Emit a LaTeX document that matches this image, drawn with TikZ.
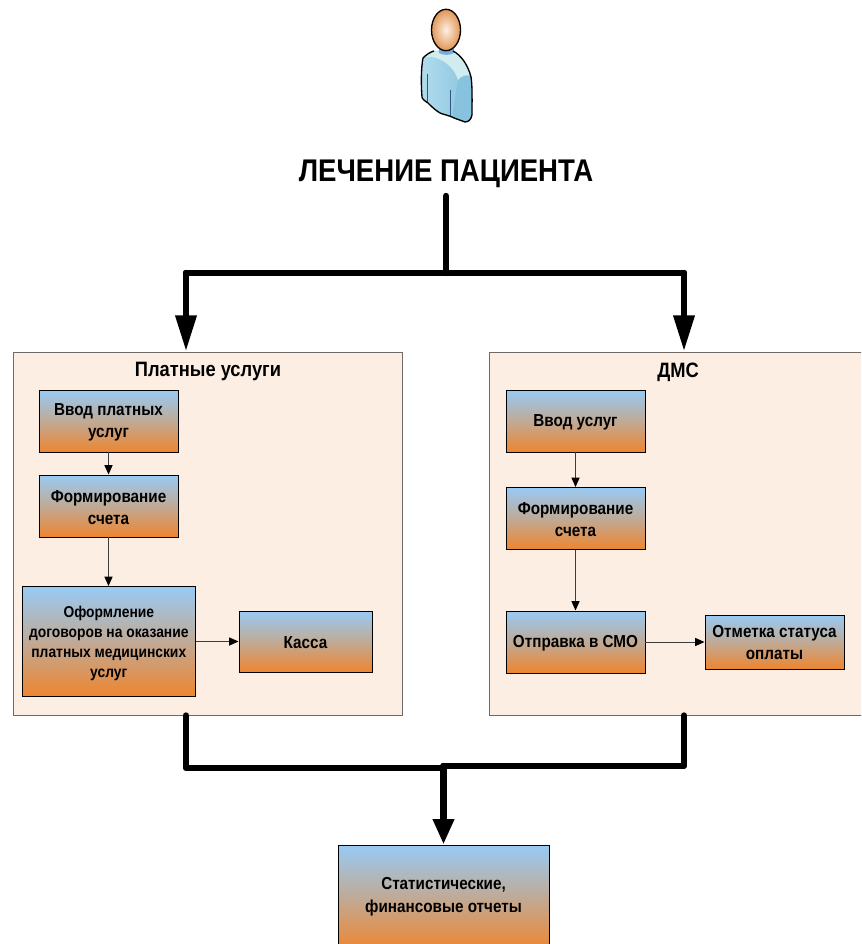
\documentclass[tikz,border=0pt]{standalone}
\usepackage{fontspec}
\setmainfont{Liberation Sans}[FakeStretch=0.88]
\usetikzlibrary{arrows.meta,calc}
\definecolor{panelfill}{RGB}{253,238,227}
\definecolor{panelline}{RGB}{110,105,100}
\definecolor{boxtop}{RGB}{152,202,245}
\definecolor{boxmid}{RGB}{192,170,150}
\definecolor{boxbot}{RGB}{238,133,48}
\definecolor{thinline}{RGB}{60,60,60}
\definecolor{bodyA}{RGB}{178,220,238}
\definecolor{bodyB}{RGB}{135,195,222}
\definecolor{yoke}{RGB}{208,236,238}
\definecolor{neck}{RGB}{120,172,220}
\definecolor{seam}{RGB}{50,85,130}
\definecolor{headA}{RGB}{252,240,228}
\definecolor{headB}{RGB}{226,150,85}
\tikzset{
  x=0.75pt,y=-0.75pt,
  panel/.style={draw=panelline,fill=panelfill,line width=0.75pt,inner sep=0pt},
  flowbox/.style={draw=black,line width=0.7pt,top color=boxtop,bottom color=boxbot,middle color=boxmid,
     align=center,font=\bfseries\fontsize{13}{16.5}\selectfont,inner sep=0pt},
  boxlabel/.style={align=center,font=\bfseries\fontsize{13}{16.5}\selectfont,inner sep=0pt},
  paneltitle/.style={font=\bfseries\fontsize{15.6}{18}\selectfont,inner sep=0pt},
  thin arrow/.style={draw=thinline,line width=0.75pt,-{Triangle[length=7pt,width=6pt,color=black]}},
  thick link/.style={draw=black,line width=4.8pt,line cap=round,line join=round},
  thick arrow/.style={thick link,-{Triangle[length=27pt,width=15pt,color=black]}},
  short thick arrow/.style={thick link,-{Triangle[length=19pt,width=15pt,color=black]}},
}
\begin{document}
\begin{tikzpicture}
\useasboundingbox (0,0) rectangle (861,944);
\clip (0,0) rectangle (861,944);
\fill[white] (0,0) rectangle (861,944);

% person
\path[left color=bodyA,right color=bodyB]
   (423,58) .. controls (426,55) and (430,52) .. (434,51)
   -- (453,51) .. controls (461,55) and (468,65) .. (471,77)
   .. controls (472.500,85) and (472,105) .. (472,115)
   .. controls (471,120) and (468,122) .. (465,122)
   .. controls (460,120) and (456,119) .. (452,117)
   .. controls (447,115) and (442,114) .. (440,113)
   .. controls (435,110) and (431,106) .. (428,103)
   .. controls (425,101) and (422,99) .. (422,97)
   .. controls (421,85) and (421,68) .. (423,58) -- cycle;
\fill[bodyB]
   (458,80) .. controls (461,76) and (466,74) .. (471,77)
   .. controls (472.500,85) and (472,105) .. (472,115)
   .. controls (471,120) and (468,122) .. (465,122)
   .. controls (460,120) and (456,119) .. (452,117)
   -- (458,80) -- cycle;
\fill[yoke]
   (424,57.500) .. controls (427,55) and (430,52.500) .. (434,51.500)
   -- (453,51.500) .. controls (461,55) and (467,65) .. (470.500,76)
   .. controls (466,74) and (461,76) .. (458,80)
   .. controls (455,68) and (440,54) .. (424,57.500) -- cycle;
\draw[seam,line width=0.6pt] (427,74) -- (427,102);
\draw[seam,line width=0.6pt] (450,90) -- (450,116);
\fill[neck] (439,48) -- (454,48) -- (454,53) .. controls (450,55.500) and (443,55.500) .. (439,53) -- cycle;
\draw[black,line width=1pt,line join=round]
   (423,58) .. controls (426,55) and (430,52) .. (434,51)
   (453,51) .. controls (461,55) and (468,65) .. (471,77)
   .. controls (472.500,85) and (472,105) .. (472,115)
   .. controls (471,120) and (468,122) .. (465,122)
   .. controls (460,120) and (456,119) .. (452,117)
   .. controls (447,115) and (442,114) .. (440,113)
   .. controls (435,110) and (431,106) .. (428,103)
   .. controls (425,101) and (422,99) .. (422,97)
   .. controls (421,85) and (421,68) .. (423,58);
\shade[draw=black,line width=1pt,inner color=headA,outer color=headB]
   (446,30) ellipse (14.500 and 20.700);

\node[font=\bfseries\fontsize{23.5}{26}\selectfont,inner sep=0pt] (title) at (446,174) {ЛЕЧЕНИЕ ПАЦИЕНТА};

% panels
\node[panel,minimum width=291.75pt,minimum height=272.25pt] (panelL) at (208,533.5) {};
\node[panel,minimum width=291.75pt,minimum height=272.25pt] (panelR) at (684,533.5) {};
\node[paneltitle] (titleL) at (208,372) {Платные услуги};
\node[paneltitle] (titleR) at (678,372) {ДМС};

% boxes left
\node[flowbox,minimum width=104.25pt,minimum height=46.5pt] (a1) at (108.5,421) {};
\node[boxlabel] (a1t) at (108.5,422.500) {Ввод платных\\услуг};
\node[flowbox,minimum width=104.25pt,minimum height=46.5pt] (a2) at (108.5,506) {};
\node[boxlabel] (a2t) at (108.5,507.500) {Формирование\\счета};
\node[flowbox,minimum width=130pt,minimum height=82.5pt] (a3) at (108.8,641.5) {};
\node[boxlabel,font=\bfseries\fontsize{11.8}{15}\selectfont] (a3t) at (108.8,643) {Оформление\\договоров на оказание\\платных медицинских\\услуг};
\node[flowbox,minimum width=99.75pt,minimum height=45.75pt] (a4) at (305.5,641.5) {};
\node[boxlabel] (a4t) at (305.5,642.500) {Касса};
% boxes right
\node[flowbox,minimum width=104.25pt,minimum height=46.5pt] (b1) at (575.5,421) {};
\node[boxlabel] (b1t) at (575.5,422) {Ввод услуг};
\node[flowbox,minimum width=104.25pt,minimum height=46.5pt] (b2) at (575.5,518.5) {};
\node[boxlabel] (b2t) at (575.5,519.5) {Формирование\\счета};
\node[flowbox,minimum width=104.25pt,minimum height=46.5pt] (b3) at (575.5,642) {};
\node[boxlabel] (b3t) at (575.5,643) {Отправка в СМО};
\node[flowbox,minimum width=104.25pt,minimum height=40.5pt] (b4) at (774.5,642) {};
\node[boxlabel] (b4t) at (774.5,643) {Отметка статуса\\оплаты};
% final
\node[flowbox,minimum width=158.25pt,minimum height=78.75pt] (rep) at (443.5,897.5) {};
\node[boxlabel,font=\bfseries\fontsize{13}{17.2}\selectfont] (rept) at (443.5,897) {Статистические,\\финансовые отчеты};

% thin connectors
\draw[thin arrow] (a1) -- (a2);
\draw[thin arrow] (a2) -- (a2 |- a3.north);
\draw[thin arrow] (a3.east) -- (a4.west);
\draw[thin arrow] (b1) -- (b2);
\draw[thin arrow] (b2) -- (b3);
\draw[thin arrow] (b3) -- (b4);

% thick connectors
\coordinate (jT) at (446,273);
\coordinate (jL) at (186,273);
\coordinate (jR) at (684,273);
\coordinate (mL) at (186,768);
\coordinate (mR) at (684,766);
\coordinate (mC) at (443.5,766);
\coordinate (mD) at (443.5,768);
\coordinate (startT) at (446,196);
\draw[thick link] (startT) -- (jT);
\draw[thick link] (jL) -- (jR);
\draw[thick arrow] (jL) -- (jL |- panelL.north);
\draw[thick arrow] (jR) -- (jR |- panelR.north);
\draw[thick link] (jL |- panelL.south) -- (mL) -- (mD);
\draw[thick link] (jR |- panelR.south) -- (mR) -- (mC);
\draw[short thick arrow] (mC) -- (rep.north);
\end{tikzpicture}
\end{document}
